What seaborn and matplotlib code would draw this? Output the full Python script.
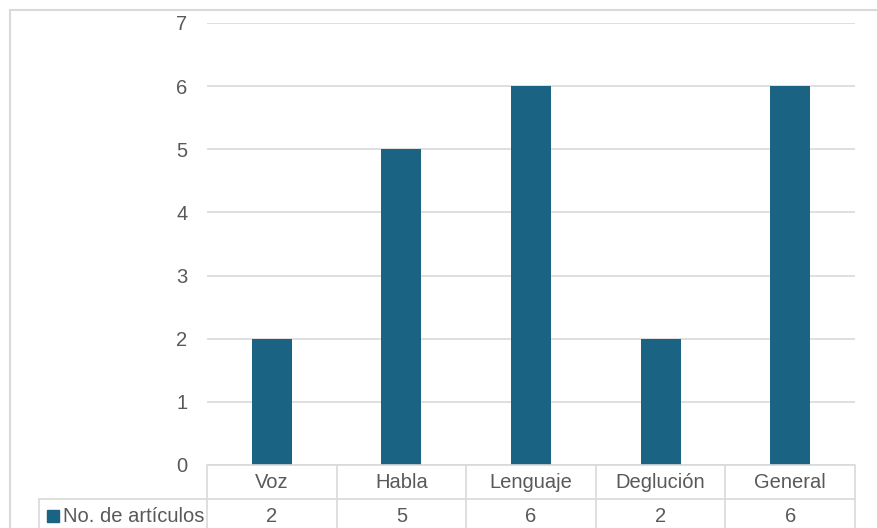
import matplotlib
matplotlib.use("Agg")
import matplotlib.pyplot as plt
import seaborn as sns
import pandas as pd
from matplotlib.patches import Rectangle

# Datos
categorias = ["Voz", "Habla", "Lenguaje", "Deglución", "General"]
articulos = [2, 5, 6, 2, 6]
serie = "No. de artículos"

color_barra = "#1B6383"
color_texto = "#595959"
color_linea = "#D9D9D9"
tam = 14.5

df = pd.DataFrame({"categoria": categorias, "valor": articulos})

sns.set_theme(style="white")
plt.rcParams["font.family"] = ["Liberation Sans", "DejaVu Sans"]

fig = plt.figure(figsize=(8.77, 5.28), dpi=100)
ax = fig.add_axes([207 / 877, 1 - 465 / 528, 648 / 877, 442 / 528])

sns.barplot(data=df, x="categoria", y="valor", color=color_barra, width=0.31,
            saturation=1, linewidth=0, ax=ax)

ax.set_ylim(0, 7)
ax.set_yticks(range(0, 8))
ax.yaxis.grid(True, color=color_linea, linewidth=1.2)
ax.set_axisbelow(True)
for s in ax.spines.values():
    s.set_visible(False)
ax.set_xlabel("")
ax.set_ylabel("")
ax.tick_params(axis="x", bottom=False, labelbottom=False)
ax.tick_params(axis="y", left=False, length=0, labelsize=tam,
               labelcolor=color_texto, pad=14)

# Tabla de datos debajo del gráfico (x en datos, y en ejes)
alto = 34 / 442
izq_etiqueta = -168 / 648
trans = ax.get_xaxis_transform()
n = len(categorias)
lw = 1.2

for i, (cat, val) in enumerate(zip(categorias, articulos)):
    ax.text(i, -alto / 2, cat, transform=trans, ha="center", va="center",
            fontsize=tam, color=color_texto, clip_on=False)
    ax.text(i, -1.5 * alto, str(val), transform=trans, ha="center", va="center",
            fontsize=tam, color=color_texto, clip_on=False)

# lineas de la tabla
for k in range(n + 1):
    ax.plot([k - 0.5, k - 0.5], [0, -2 * alto], color=color_linea, lw=lw,
            transform=trans, clip_on=False, solid_capstyle="butt")
ax.plot([-0.5, n - 0.5], [0, 0], color=color_linea, lw=lw, transform=trans,
        clip_on=False)
for y in [-alto, -2 * alto]:
    ax.plot([izq_etiqueta, 1], [y, y], color=color_linea, lw=lw,
            transform=ax.transAxes, clip_on=False)
ax.plot([izq_etiqueta, izq_etiqueta], [-alto, -2 * alto], color=color_linea,
        lw=lw, transform=ax.transAxes, clip_on=False)

# etiqueta de la serie con su clave
ax.text(-3 / 648, -1.5 * alto, serie, transform=ax.transAxes, ha="right",
        va="center", fontsize=tam, color=color_texto, clip_on=False)
ax.plot([(53 - 207) / 648], [-1.5 * alto], marker="s", markersize=8,
        color=color_barra, transform=ax.transAxes, clip_on=False)

ax.set_xlim(-0.5, n - 0.5)

# Borde exterior del área del gráfico
fig.patches.append(Rectangle((9.5 / 877, -0.1), 1.2, 1 - 9.5 / 528 + 0.1,
                             transform=fig.transFigure, fill=False,
                             edgecolor=color_linea, linewidth=1.5))

fig.savefig("out.png", dpi=100)
